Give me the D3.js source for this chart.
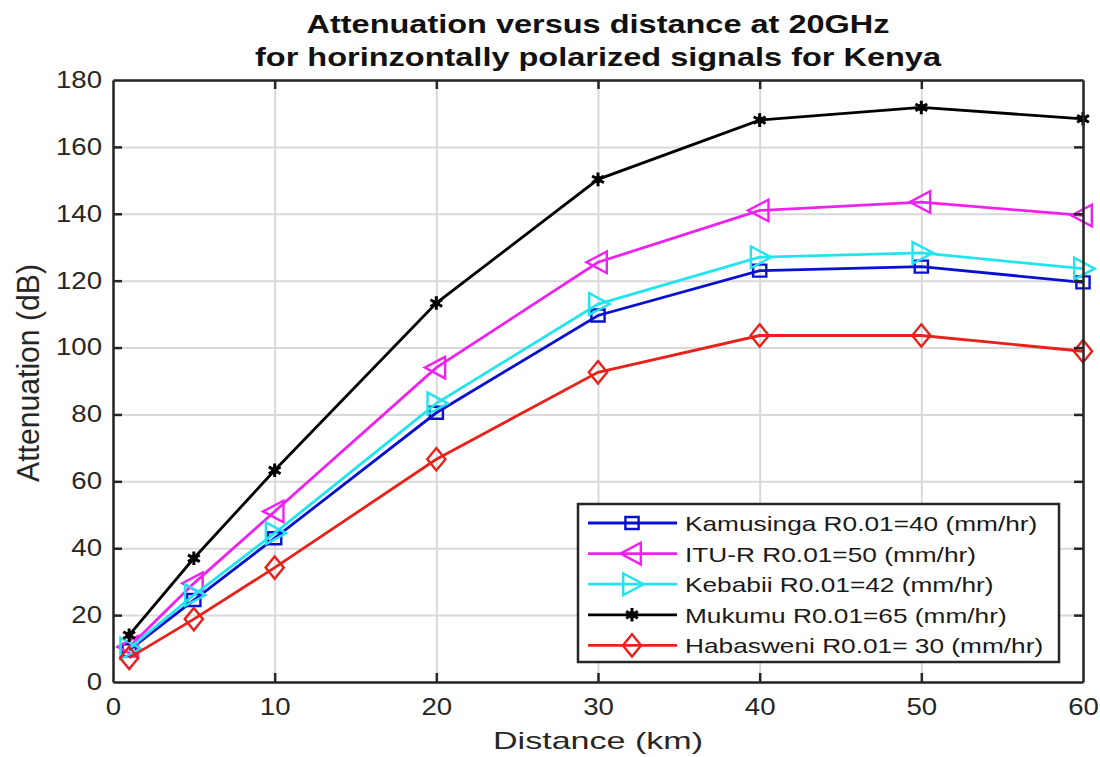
<!DOCTYPE html>
<html>
<head>
<meta charset="utf-8">
<script src="https://cdn.jsdelivr.net/npm/d3@7"></script>
<style>
  body { margin: 0; background: #fff; }
  text { font-family: "Liberation Sans", Arial, sans-serif; }
</style>
</head>
<body>
<svg id="chart"></svg>
<script>
// distances (km)
const distances = [1, 5, 10, 20, 30, 40, 50, 60];

// attenuation (dB) per model
const kamusinga = [9.5, 24.5, 43, 80.5, 109.6, 123, 124.2, 119.5];
const ituR = [10.5, 29.5, 51, 94, 125.5, 141, 143.5, 139.5];
const kebabii = [10, 26, 44.5, 83.3, 113, 127, 128.3, 123.6];
const mukumu = [14, 37, 63.3, 113.3, 150.3, 168, 171.8, 168.4];
const habasweni = [7.2, 18.8, 34.2, 66.6, 92.6, 103.6, 103.6, 98.9];

const seriesNames = [
  "Kamusinga R0.01=40 (mm/hr)",
  "ITU-R R0.01=50 (mm/hr)",
  "Kebabii R0.01=42 (mm/hr)",
  "Mukumu R0.01=65 (mm/hr)",
  "Habasweni R0.01= 30 (mm/hr)"
];
const seriesColors = ["#0a10d0", "#ee22ee", "#22e4ee", "#000000", "#e8221a"];
const seriesMarkers = ["square", "triLeft", "triRight", "star", "diamond"];

const xTicks = [0, 10, 20, 30, 40, 50, 60];
const yTicks = [0, 20, 40, 60, 80, 100, 120, 140, 160, 180];

const series = [kamusinga, ituR, kebabii, mukumu, habasweni].map((vals, i) => ({
  name: seriesNames[i],
  color: seriesColors[i],
  marker: seriesMarkers[i],
  values: vals.map((v, j) => ({ x: distances[j], y: v }))
}));

const width = 1100, height = 757;
const margin = { top: 80, right: 17, bottom: 75, left: 113 };
const innerW = width - margin.left - margin.right;
const innerH = height - margin.top - margin.bottom;

const svg = d3.select("#chart").attr("width", width).attr("height", height);
const chart = svg.append("g").attr("transform", `translate(${margin.left},${margin.top})`);

const xScale = d3.scaleLinear().domain([0, 60]).range([0, innerW]);
const yScale = d3.scaleLinear().domain([0, 180]).range([innerH, 0]);

// the picture is wider than tall, so text is stretched sideways
function stretch(sel, k) {
  sel.each(function () {
    const w = this.getComputedTextLength();
    d3.select(this).attr("textLength", w * k).attr("lengthAdjust", "spacingAndGlyphs");
  });
}

// gridlines
chart.append("g")
  .attr("transform", `translate(0,${innerH})`)
  .call(d3.axisBottom(xScale).tickValues(xTicks).tickSize(-innerH).tickFormat(""))
  .call(g => g.select(".domain").remove())
  .call(g => g.selectAll("line").attr("stroke", "#d9d9d9").attr("stroke-width", 2));
chart.append("g")
  .call(d3.axisLeft(yScale).tickValues(yTicks).tickSize(-innerW).tickFormat(""))
  .call(g => g.select(".domain").remove())
  .call(g => g.selectAll("line").attr("stroke", "#d9d9d9").attr("stroke-width", 2));

// markers
function markerPath(type, s) {
  switch (type) {
    case "square":
      return `M${-s * 1.1},${-s}H${s * 1.1}V${s}H${-s * 1.1}Z`;
    case "diamond":
      return `M0,${-s * 1.6}L${s * 1.3},0L0,${s * 1.6}L${-s * 1.3},0Z`;
    case "triLeft":
      return `M${-s * 1.45},0L${s * 1.1},${-s * 1.35}L${s * 1.1},${s * 1.35}Z`;
    case "triRight":
      return `M${s * 1.45},0L${-s * 1.1},${-s * 1.35}L${-s * 1.1},${s * 1.35}Z`;
    default:
      return "";
  }
}
const markerSize = { square: 6, diamond: 7, triLeft: 8, triRight: 8, star: 6 };

function drawMarker(g, type, color) {
  if (type === "star") {
    const r = markerSize.star;
    g.append("path")
      .attr("d", d3.symbol(d3.symbolAsterisk, 130)())
      .attr("fill", "none").attr("stroke", color).attr("stroke-width", 3);
    g.append("circle").attr("r", r * 0.6).attr("fill", color);
  } else {
    g.append("path")
      .attr("d", markerPath(type, markerSize[type]))
      .attr("fill", "none").attr("stroke", color).attr("stroke-width", 2.4);
  }
}

const line = d3.line().x(d => xScale(d.x)).y(d => yScale(d.y));

series.forEach(s => {
  chart.append("path")
    .datum(s.values)
    .attr("fill", "none")
    .attr("stroke", s.color)
    .attr("stroke-width", 2.8)
    .attr("d", line);
  s.values.forEach(d => {
    const g = chart.append("g").attr("transform", `translate(${xScale(d.x)},${yScale(d.y)})`);
    drawMarker(g, s.marker, s.color);
  });
});

// axes with inner ticks on all sides
const axisColor = "#262626";
const xAxisB = chart.append("g")
  .attr("transform", `translate(0,${innerH})`)
  .call(d3.axisBottom(xScale).tickValues(xTicks).tickSizeInner(-9).tickSizeOuter(0).tickPadding(17));
const xAxisT = chart.append("g")
  .call(d3.axisTop(xScale).tickValues(xTicks).tickSizeInner(-9).tickSizeOuter(0).tickFormat(""));
const yAxisL = chart.append("g")
  .call(d3.axisLeft(yScale).tickValues(yTicks).tickSizeInner(-9).tickSizeOuter(0).tickPadding(11));
const yAxisR = chart.append("g")
  .attr("transform", `translate(${innerW},0)`)
  .call(d3.axisRight(yScale).tickValues(yTicks).tickSizeInner(-9).tickSizeOuter(0).tickFormat(""));
[xAxisB, xAxisT, yAxisL, yAxisR].forEach(a => {
  a.select(".domain").attr("stroke", axisColor).attr("stroke-width", 2.5);
  a.selectAll(".tick line").attr("stroke", axisColor).attr("stroke-width", 2.5);
  a.selectAll(".tick text")
    .attr("fill", "#262626")
    .style("font-size", "23px")
    .style("font-family", "Liberation Sans, Arial, sans-serif");
});
stretch(xAxisB.selectAll(".tick text"), 1.2);
stretch(yAxisL.selectAll(".tick text"), 1.2);
xAxisB.selectAll(".tick line").filter(d => d === 0 || d === 60).remove();
xAxisT.selectAll(".tick line").filter(d => d === 0 || d === 60).remove();
yAxisL.selectAll(".tick line").filter(d => d === 0 || d === 180).remove();
yAxisR.selectAll(".tick line").filter(d => d === 0 || d === 180).remove();

// titles
svg.append("text")
  .attr("x", 598).attr("y", 33)
  .attr("text-anchor", "middle")
  .style("font-size", "25px").style("font-weight", "bold").attr("fill", "#111")
  .attr("textLength", 583).attr("lengthAdjust", "spacingAndGlyphs")
  .text("Attenuation versus distance at 20GHz");
svg.append("text")
  .attr("x", 598).attr("y", 66)
  .attr("text-anchor", "middle")
  .style("font-size", "25px").style("font-weight", "bold").attr("fill", "#111")
  .attr("textLength", 686).attr("lengthAdjust", "spacingAndGlyphs")
  .text("for horinzontally polarized signals for Kenya");

svg.append("text")
  .attr("x", 598).attr("y", 749)
  .attr("text-anchor", "middle")
  .style("font-size", "24px").attr("fill", "#262626")
  .attr("textLength", 210).attr("lengthAdjust", "spacingAndGlyphs")
  .text("Distance (km)");
svg.append("text")
  .attr("transform", "translate(39,373) scale(1.4,1) rotate(-90)")
  .attr("text-anchor", "middle")
  .style("font-size", "22px").attr("fill", "#262626")
  .attr("textLength", 218).attr("lengthAdjust", "spacingAndGlyphs")
  .text("Attenuation (dB)");

// legend
const legend = svg.append("g").attr("transform", "translate(578,504)");
legend.append("rect")
  .attr("width", 481).attr("height", 158)
  .attr("fill", "#fff").attr("stroke", axisColor).attr("stroke-width", 2.5);
series.forEach((s, i) => {
  const y = 19 + i * 30.6;
  const row = legend.append("g").attr("transform", `translate(0,${y})`);
  row.append("line").attr("x1", 10).attr("x2", 99).attr("stroke", s.color).attr("stroke-width", 2.8);
  drawMarker(row.append("g").attr("transform", "translate(54,0)"), s.marker, s.color);
  row.append("text")
    .attr("x", 107).attr("y", 8)
    .style("font-size", "21px").attr("fill", "#1a1a1a")
    .text(s.name);
});
stretch(legend.selectAll("text"), 1.25);
</script>
</body>
</html>
